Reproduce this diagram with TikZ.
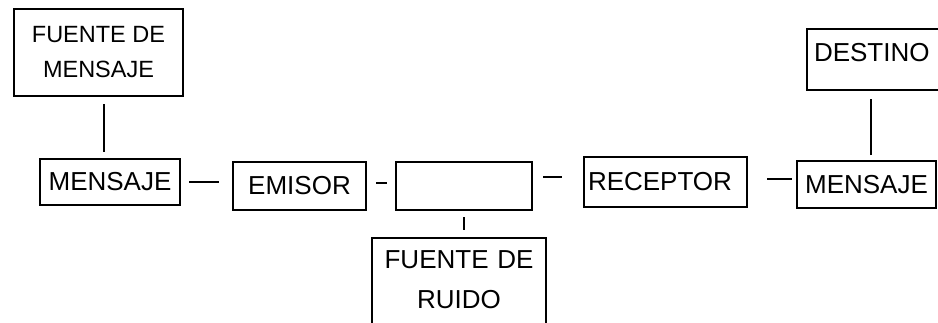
\documentclass[tikz,border=0pt]{standalone}
\usepackage{fontspec}
\setmainfont{Liberation Sans}

\begin{document}
\begin{tikzpicture}[x=1pt,y=-1pt,
  caja/.style={draw,line width=2pt,inner sep=0pt,align=center,font=\fontsize{26}{40}\selectfont},
  enlace/.style={line width=2pt}]
\useasboundingbox (0,0) rectangle (938,322);
\clip (0,0) rectangle (938,322);
\node[caja,minimum width=169,minimum height=87,font=\fontsize{23.5}{35}\selectfont] (fuente) at (98.5,52.5) {FUENTE DE\\MENSAJE};
\node[caja,minimum width=140,minimum height=46] (mensajeA) at (110,182) {MENSAJE};
\node[caja,minimum width=133,minimum height=48] (emisor) at (299.5,186) {EMISOR};
\node[caja,minimum width=136,minimum height=48] (canal) at (464,186) {};
\node[caja,anchor=north,text width=174,text height=30,text depth=120] (ruido) at (459,237) {FUENTE DE\\RUIDO};
\node[caja,anchor=west,text width=155,inner xsep=4pt,align=left,minimum height=50] (receptor) at (583,182) {RECEPTOR};
\node[caja,minimum width=139,minimum height=47] (mensajeB) at (866.5,184.5) {MENSAJE};
\node[caja,anchor=north west,text width=150,inner xsep=7pt,align=left,text height=32,text depth=29] (destino) at (806,28) {DESTINO};
\coordinate (f1) at ([xshift=5.5pt]fuente.south);
\coordinate (e1) at ([yshift=3pt]emisor.east);
\coordinate (r1) at ([yshift=5pt]receptor.west);
\coordinate (r2) at ([yshift=3pt]receptor.east);
\coordinate (m1) at ([xshift=4.5pt]mensajeB.north);
\draw[enlace,shorten <=7pt,shorten >=6pt] (f1) -- (f1 |- mensajeA.north);
\draw[enlace,shorten <=8pt,shorten >=13pt] (mensajeA.east) -- (mensajeA.east -| emisor.west);
\draw[enlace,shorten <=9pt,shorten >=8pt] (e1) -- (e1 -| canal.west);
\draw[enlace,shorten <=10pt,shorten >=21pt] (r1 -| canal.east) -- (r1);
\draw[enlace,shorten <=19pt,shorten >=4pt] (r2) -- (r2 -| mensajeB.west);
\draw[enlace,shorten <=6pt,shorten >=7pt] (canal.south) -- (canal.south |- ruido.north);
\draw[enlace,shorten <=5pt,shorten >=8pt] (m1) -- (m1 |- destino.south);
\end{tikzpicture}
\end{document}
